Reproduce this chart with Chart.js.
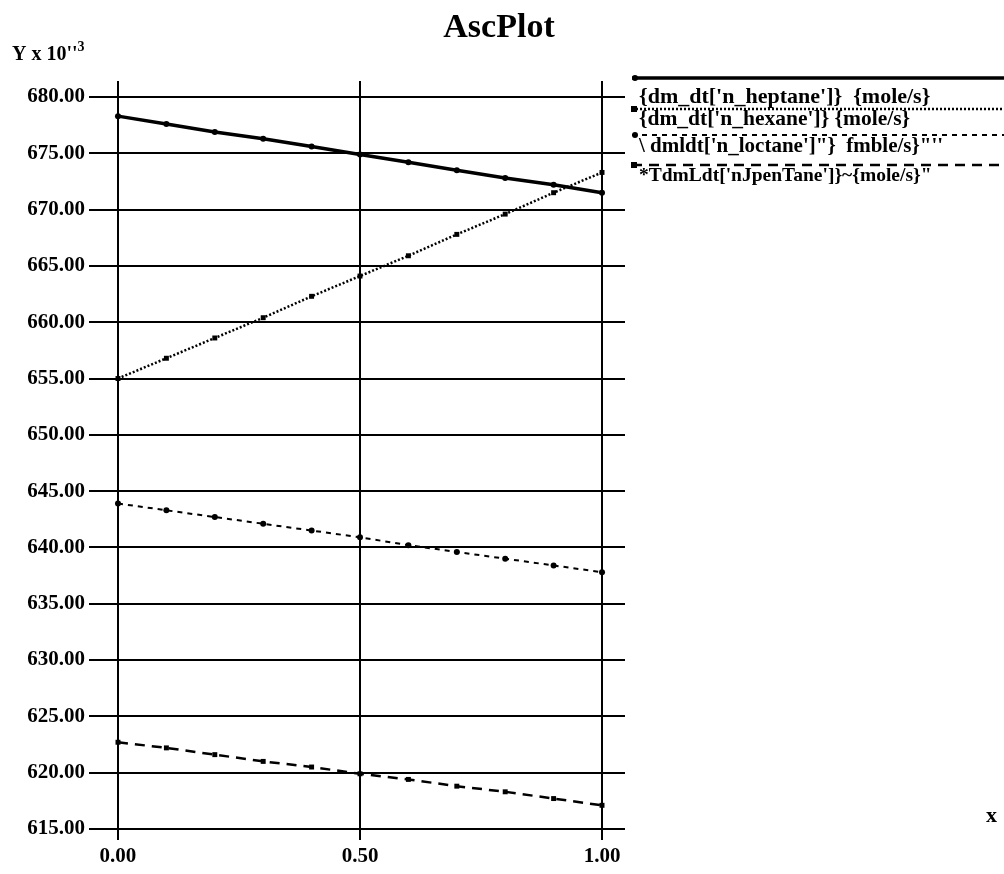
<!DOCTYPE html>
<html>
<head>
<meta charset="utf-8">
<script src="https://cdn.jsdelivr.net/npm/chart.js@4/dist/chart.umd.min.js"></script>
<style>
  html, body { margin: 0; padding: 0; background: #fff; }
  canvas { display: block; }
</style>
</head>
<body>
<canvas id="c" width="1004" height="874"></canvas>
<script>
// ---- data ----
const xValues = [0, 0.1, 0.2, 0.3, 0.4, 0.5, 0.6, 0.7, 0.8, 0.9, 1.0];
const heptane = [678.3, 677.6, 676.9, 676.3, 675.6, 674.9, 674.2, 673.5, 672.8, 672.2, 671.5];
const hexane  = [655.0, 656.8, 658.6, 660.4, 662.3, 664.1, 665.9, 667.8, 669.6, 671.5, 673.3];
const octane  = [643.9, 643.3, 642.7, 642.1, 641.5, 640.9, 640.2, 639.6, 639.0, 638.4, 637.8];
const pentane = [622.7, 622.2, 621.6, 621.0, 620.5, 619.9, 619.4, 618.8, 618.3, 617.7, 617.1];
const seriesLabels = [
  "{dm_dt['n_heptane']}  {mole/s}",
  "{dm_dt['n_hexane']} {mole/s}",
  "\\ dmldt['n_loctane']\"}  fmble/s}\"''",
  "*TdmLdt['nJpenTane']}~{mole/s}\""
];
const xTicks = [0, 0.5, 1.0];
const yTicks = [615, 620, 625, 630, 635, 640, 645, 650, 655, 660, 665, 670, 675, 680];
const titleText = 'AscPlot';
const yTitle = "Y x 10''";
const yTitleSup = '3';
const xTitle = 'x';

// ---- styles ----
const FONT = 'Liberation Serif';
const styles = [
  { width: 3.5, dash: [],      style: 'circle', r: 3 },
  { width: 2.5, dash: [2, 2],  style: 'rect',   r: 3.5 },
  { width: 2,   dash: [5, 5],  style: 'circle', r: 3 },
  { width: 2.5, dash: [10, 7], style: 'rect',   r: 3.5 }
];
const allSeries = [heptane, hexane, octane, pentane];

const datasets = allSeries.map((vals, i) => ({
  label: seriesLabels[i],
  data: xValues.map((x, k) => ({ x: x, y: vals[k] })),
  borderColor: '#000',
  backgroundColor: '#000',
  borderWidth: styles[i].width,
  borderDash: styles[i].dash,
  pointStyle: styles[i].style,
  pointRadius: styles[i].r,
  pointBorderWidth: 0,
  tension: 0
}));

const legendPos = [
  { line: 78,  text: 97,  size: 22 },
  { line: 109, text: 119, size: 21.5 },
  { line: 135, text: 147, size: 21 },
  { line: 165, text: 176, size: 19.5 }
];

const extras = {
  id: 'extras',
  afterDraw(chart) {
    const ctx = chart.ctx;
    ctx.save();
    ctx.fillStyle = '#000';
    ctx.strokeStyle = '#000';
    // title
    ctx.font = 'bold 34px "' + FONT + '"';
    ctx.textAlign = 'center';
    ctx.textBaseline = 'middle';
    ctx.fillText(titleText, 499, 28);
    // y title
    ctx.textAlign = 'left';
    ctx.textBaseline = 'alphabetic';
    ctx.font = 'bold 20px "' + FONT + '"';
    ctx.fillText(yTitle, 12, 60);
    const w = ctx.measureText(yTitle).width;
    ctx.font = 'bold 14px "' + FONT + '"';
    ctx.fillText(yTitleSup, 12 + w, 51);
    // x title
    ctx.font = 'bold 22px "' + FONT + '"';
    ctx.fillText(xTitle, 986, 822);
    // legend
    chart.data.datasets.forEach((ds, i) => {
      const p = legendPos[i];
      ctx.save();
      ctx.lineWidth = ds.borderWidth;
      ctx.setLineDash(ds.borderDash);
      ctx.beginPath();
      ctx.moveTo(632, p.line);
      ctx.lineTo(1004, p.line);
      ctx.stroke();
      ctx.restore();
      ctx.beginPath();
      if (ds.pointStyle === 'rect') {
        ctx.fillRect(631, p.line - 3, 6, 6);
      } else {
        ctx.arc(635, p.line, 3, 0, Math.PI * 2);
        ctx.fill();
      }
      ctx.font = 'bold ' + p.size + 'px "' + FONT + '"';
      ctx.textBaseline = 'middle';
      ctx.fillText(ds.label, 639, p.text);
    });
    ctx.restore();
  }
};

new Chart(document.getElementById('c'), {
  type: 'line',
  data: { datasets: datasets },
  options: {
    responsive: false,
    devicePixelRatio: 1,
    animation: false,
    layout: { padding: { left: 0, right: 379, top: 81, bottom: 0 } },
    plugins: {
      legend: { display: false },
      tooltip: { enabled: false },
      title: { display: false }
    },
    scales: {
      x: {
        type: 'linear',
        min: -0.0475,
        max: 1.0475,
        afterBuildTicks: (axis) => { axis.ticks = xTicks.map(v => ({ value: v })); },
        afterFit: (axis) => { axis.height = 34; },
        border: { display: false },
        grid: { color: '#000', lineWidth: 2, drawTicks: false },
        ticks: {
          color: '#000',
          padding: 4,
          maxRotation: 0,
          font: { family: FONT, size: 21, weight: 'bold' },
          callback: (v) => Number(v).toFixed(2)
        }
      },
      y: {
        type: 'linear',
        min: 614.02,
        max: 681.42,
        afterBuildTicks: (axis) => { axis.ticks = yTicks.map(v => ({ value: v })); },
        afterFit: (axis) => { axis.width = 95; },
        border: { display: false },
        grid: { color: '#000', lineWidth: 2, drawTicks: true, tickLength: 6 },
        ticks: {
          color: '#000',
          padding: 4,
          font: { family: FONT, size: 21, weight: 'bold' },
          callback: (v) => Number(v).toFixed(2)
        }
      }
    }
  },
  plugins: [extras]
});
</script>
</body>
</html>
